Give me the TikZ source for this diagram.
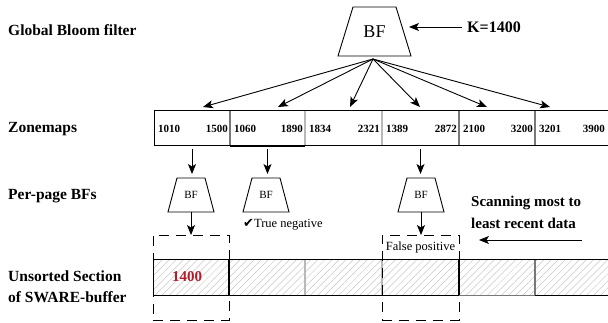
\documentclass[tikz,border=0pt]{standalone}
\usepackage{fontspec}
\setmainfont{Liberation Serif}
\newfontfamily\symfont{DejaVu Sans}
\usetikzlibrary{arrows.meta,patterns.meta}
\definecolor{darkred}{RGB}{178,30,45}
\definecolor{divgray}{RGB}{185,185,185}
\definecolor{midgray}{RGB}{120,120,120}
\definecolor{hatchgray}{RGB}{200,200,200}
\begin{document}
\begin{tikzpicture}[x=1pt,y=-1pt,
  lbl/.style={font=\fontsize{15.5}{18}\selectfont\bfseries, anchor=base west, inner sep=0},
  num/.style={font=\fontsize{11}{12}\selectfont\bfseries, inner sep=0},
  arr/.style={-{Stealth[length=10pt,width=8pt,inset=2.5pt]}, line width=0.9pt},
  bfbig/.style={minimum width=73pt, minimum height=49pt, inner sep=0, outer sep=0, font=\fontsize{18}{20}\selectfont},
  bfsmall/.style={minimum width=46pt, minimum height=34pt, inner sep=0, outer sep=0, font=\fontsize{11}{12}\selectfont},
  trap/.style={line width=0.9pt, line join=miter},
  cell/.style={minimum width=76pt, minimum height=35pt, inner sep=0, outer sep=0},
  dbox/.style={draw, line width=0.9pt, dash pattern=on 10pt off 7pt, inner sep=0, outer sep=0},
  small/.style={font=\fontsize{12.5}{14}\selectfont, inner sep=0},
  note/.style={font=\fontsize{15}{17}\selectfont\bfseries, anchor=base west, inner sep=0},
]
\useasboundingbox (0,0) rectangle (608,323);

% left labels
\node[lbl] (lgbf) at (8,36) {Global Bloom filter};
\node[lbl] (lzm) at (8,133) {Zonemaps};
\node[lbl] (lpp) at (8,200) {Per-page BFs};
\node[lbl] (lus) at (8,282) {Unsorted Section};
\node[lbl] (lsw) at (8,302) {of SWARE-buffer};

% global BF
\node[bfbig] (gbf) at (374.5,31.5) {BF};
\draw[trap] (gbf.center) ++(-36.5,24.5) -- ++(73,0) -- ++(-15,-49) -- ++(-43,0) -- cycle;
\node[font=\fontsize{16}{18}\selectfont\bfseries, anchor=west, inner sep=0] (k) at (467,27) {K=1400};
\coordinate (kt) at (409,27);
\coordinate (ks) at (462,27);
\draw[arr] (ks) -- (kt);

% zonemap cells
\node[cell] (z1) at (192,128.5) {};
\node[cell] (z2) at (267.5,128.5) {};
\node[cell] (z3) at (343.5,128.5) {};
\node[cell] (z4) at (420.5,128.5) {};
\node[cell] (z5) at (497,128.5) {};
\node[cell] (z6) at (571.5,128.5) {};
\draw[divgray, line width=1.6pt] (305,111) -- (305,146) (382,111) -- (382,146);
\draw[midgray, line width=1.1pt] (230,111) -- (230,146) (459,111) -- (459,146) (535,111) -- (535,146);
\draw[line width=1pt] (608,111) -- (154,111) -- (154,146) -- (608,146);
\draw[line width=1.8pt] (230,146) -- (305,146);

\foreach \l/\r/\a/\b in {154/230/1010/1500, 230/305/1060/1890, 305/382/1834/2321,
                         382/459/1389/2872, 459/535/2100/3200, 535/607/3201/3900}{
  \node[num, anchor=base west] at (\l+4,132.5) {\a};
  \node[num, anchor=base east] at (\r-2,132.5) {\b};
}

% arrows from global BF
\coordinate (apex) at (373,59);
\foreach \x [count=\i] in {203,278,350,420,487,550}{
  \coordinate (t\i) at (\x,107);
  \draw[arr] (apex) -- (t\i);
}

% per-page BFs
\node[bfsmall] (p1) at (191,195) {BF};
\node[bfsmall] (p2) at (266,195) {BF};
\node[bfsmall] (p4) at (421,195) {BF};
\foreach \p in {p1,p2,p4}{
  \draw[trap] (\p.center) ++(-23,17) -- ++(46,0) -- ++(-9,-34) -- ++(-28,0) -- cycle;
}
\draw[arr, shorten <=3pt, shorten >=4pt] (z1.south) -- (z1.south |- p1.north);
\draw[arr, shorten <=3pt, shorten >=4pt] (z2.south) -- (z2.south |- p2.north);
\draw[arr, shorten <=3pt, shorten >=4pt] (z4.south) -- (z4.south |- p4.north);

\node[small, anchor=base west] (tn) at (243,228) {{\symfont\fontsize{13}{14}\selectfont ✔}True negative};

% buffer
\node[cell] (b1) at (191.5,277.5) {};
\node[cell] (b2) at (267.5,277.5) {};
\node[cell] (b3) at (343.5,277.5) {};
\node[cell] (b4) at (420.5,277.5) {};
\node[cell] (b5) at (497,277.5) {};
\node[cell] (b6) at (571.5,277.5) {};
\fill[pattern={Lines[angle=45,distance=5pt,line width=0.5pt]}, pattern color=hatchgray] (153,260) rectangle (610,295);
\draw[divgray, line width=1.6pt] (305,260) -- (305,295) (382,260) -- (382,295);
\draw[midgray, line width=1.1pt] (535,260) -- (535,295);
\draw[line width=1pt] (608,260) -- (153,260) -- (153,295) -- (459,295);
\draw[midgray, line width=1pt] (459,295) -- (535,295);
\draw[line width=1pt] (535,295) -- (608,295);
\draw[line width=1.1pt] (229,260) -- (229,295) (459,260) -- (459,295);
\node[font=\fontsize{15}{16}\selectfont\bfseries, text=darkred, inner sep=0] (key) at (187,277) {1400};

% dashed boxes
\node[dbox, minimum width=76pt, minimum height=85pt] (d1) at (191,277.5) {};
\node[dbox, minimum width=77pt, minimum height=85pt] (d4) at (420.5,277.5) {};
\draw[arr] (p1.south) -- (p1.south |- d1.north);
\draw[arr] (p4.south) -- (p4.south |- d4.north);
\node[small] (fp) at (420.5,247) {False positive};

% scanning note
\node[note] (sc1) at (471,207) {Scanning most to};
\node[note] (sc2) at (471,229) {least recent data};
\coordinate (sa) at (582,240);
\coordinate (sb) at (479,240);
\draw[arr] (sa) -- (sb);
\end{tikzpicture}
\end{document}
